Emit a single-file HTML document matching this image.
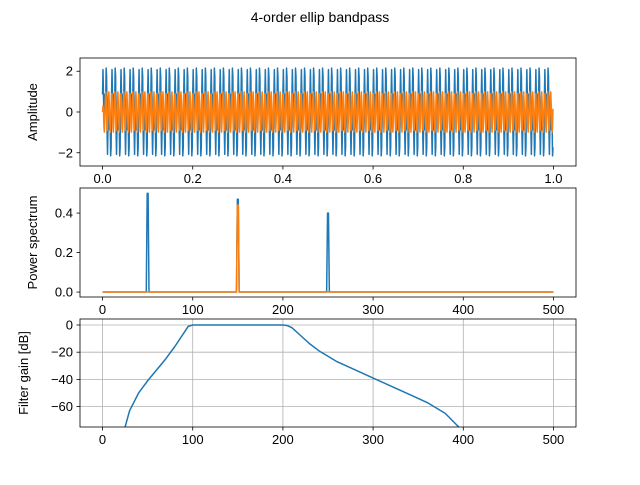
<!DOCTYPE html>
<html><head><meta charset="utf-8"><style>
body{margin:0;background:#fff}
text{font-family:"Liberation Sans","DejaVu Sans",sans-serif;font-size:13px;fill:#000}
</style></head><body>
<svg id="fig" width="640" height="480" xmlns="http://www.w3.org/2000/svg">
<rect width="640" height="480" fill="#fff"/>
<text x="320" y="22" text-anchor="middle" style="font-size:14px">4-order ellip bandpass</text>
</svg>
<script>
// data
const sigFreqs=[50,150,250];
const sigAmps=[1,1,1];
const filtFreqs=[150];
const filtAmps=[1];
const specFreqs=[50,150,250];
const specRaw=[0.5,0.47,0.40];
const specFilt=[0,0.44,0];
const gainFreqs=[25,30,40,50,60,70,80,90,95,100,150,200,205,210,220,230,240,250,260,280,300,320,340,360,380,395];
const gainDb=[-75,-63,-50,-41,-33,-25,-16,-6,-1,0,0,0,-0.5,-2,-8,-14,-19,-23,-27,-33,-39,-45,-51,-57,-65,-75];
const t1Ticks=[0,0.2,0.4,0.6,0.8,1.0];const t1Labels=["0.0","0.2","0.4","0.6","0.8","1.0"];
const y1Ticks=[-2,0,2];const y1Labels=["\u22122","0","2"];
const fTicks=[0,100,200,300,400,500];const fLabels=["0","100","200","300","400","500"];
const y2Ticks=[0,0.2,0.4];const y2Labels=["0.0","0.2","0.4"];
const y3Ticks=[-60,-40,-20,0];const y3Labels=["\u221260","\u221240","\u221220","0"];

const svg=document.getElementById('fig');const NS='http://www.w3.org/2000/svg';
function mk(tag,attrs,parent){const e=document.createElementNS(NS,tag);for(const k in attrs)e.setAttribute(k,attrs[k]);(parent||svg).appendChild(e);return e;}
const L=80,R=576;
function lin(d0,d1,r0,r1){return v=>r0+(v-d0)/(d1-d0)*(r1-r0);}
function axes(top,bot,xs,ys,xt,xl,yt,yl,ylabel,grid,name,lx){
  const g=mk('g',{});
  
  
  const cp='clip-'+name;
  const c=mk('clipPath',{id:cp},g);mk('rect',{x:L,y:top,width:R-L,height:bot-top},c);
  if(grid){xt.forEach(v=>mk('line',{x1:xs(v),x2:xs(v),y1:top,y2:bot,stroke:'#b0b0b0','stroke-width':0.8},g));
    yt.forEach(v=>mk('line',{x1:L,x2:R,y1:ys(v),y2:ys(v),stroke:'#b0b0b0','stroke-width':0.8},g));}
  const plot=mk('g',{'clip-path':'url(#'+cp+')'},g);
  xt.forEach((v,i)=>{mk('line',{x1:xs(v),x2:xs(v),y1:bot,y2:bot+3.5,stroke:'#000','stroke-width':0.8},g);
    const t=mk('text',{x:xs(v),y:bot+17,'text-anchor':'middle'},g);t.textContent=xl[i];});
  yt.forEach((v,i)=>{mk('line',{x1:L-3.5,x2:L,y1:ys(v),y2:ys(v),stroke:'#000','stroke-width':0.8},g);
    const t=mk('text',{x:L-7,y:ys(v)+4.5,'text-anchor':'end'},g);t.textContent=yl[i];});
  const yl2=mk('text',{x:0,y:0,'text-anchor':'middle',transform:`translate(${lx},${(top+bot)/2}) rotate(-90)`},g);
  yl2.textContent=ylabel;
  
  
  return {g,plot,frame:()=>mk('rect',{x:L,y:top,width:R-L,height:bot-top,fill:'none',stroke:'#000','stroke-width':0.8},g)};
}
function poly(parent,pts,color,name){const p=mk('polyline',{points:pts.map(p=>p[0].toFixed(2)+','+p[1].toFixed(2)).join(' '),fill:'none',stroke:color,'stroke-width':1.5,'stroke-linejoin':'round'},parent);
  
  return p;}
// axes 1
const x1=lin(-0.05,1.05,L,R),yA=lin(-2.65,2.65,166,58);
const a1=axes(58,166,x1,yA,t1Ticks,t1Labels,y1Ticks,y1Labels,'Amplitude',false,'amplitude-axes',37);
const raw=[],flt=[];
for(let i=0;i<1000;i++){const t=i/1000;let s=0;sigFreqs.forEach((f,k)=>s+=sigAmps[k]*Math.sin(2*Math.PI*f*t+0.3*k));
  let o=0;filtFreqs.forEach((f,k)=>o+=filtAmps[k]*Math.sin(2*Math.PI*f*t+1.1));
  raw.push([x1(t),yA(s)]);flt.push([x1(t),yA(i<3?o*i/3:o)]);}
poly(a1.plot,raw,'#1f77b4','raw-signal-line');poly(a1.plot,flt,'#ff7f0e','filtered-signal-line');a1.frame();
// axes 2
const x2=lin(-25,525,L,R),yB=lin(-0.025,0.527,297,188);
const a2=axes(188,297,x2,yB,fTicks,fLabels,y2Ticks,y2Labels,'Power spectrum',false,'spectrum-axes',37);
function spec(vals){const pts=[[x2(0),yB(0)]];specFreqs.forEach((f,k)=>{if(vals[k]>0){pts.push([x2(f-1.5),yB(0)],[x2(f-0.5),yB(vals[k])],[x2(f+0.5),yB(vals[k])],[x2(f+1.5),yB(0)]);}});pts.push([x2(500),yB(0)]);return pts;}
poly(a2.plot,spec(specRaw),'#1f77b4','raw-spectrum-line');poly(a2.plot,spec(specFilt),'#ff7f0e','filtered-spectrum-line');a2.frame();
// axes 3
const yC=lin(-75,4.4,427,319);
const a3=axes(319,427,x2,yC,fTicks,fLabels,y3Ticks,y3Labels,'Filter gain [dB]',true,'filter-gain-axes',28);
poly(a3.plot,gainFreqs.map((f,i)=>[x2(f),yC(gainDb[i])]),'#1f77b4','filter-gain-line');a3.frame();
</script>
</body></html>
